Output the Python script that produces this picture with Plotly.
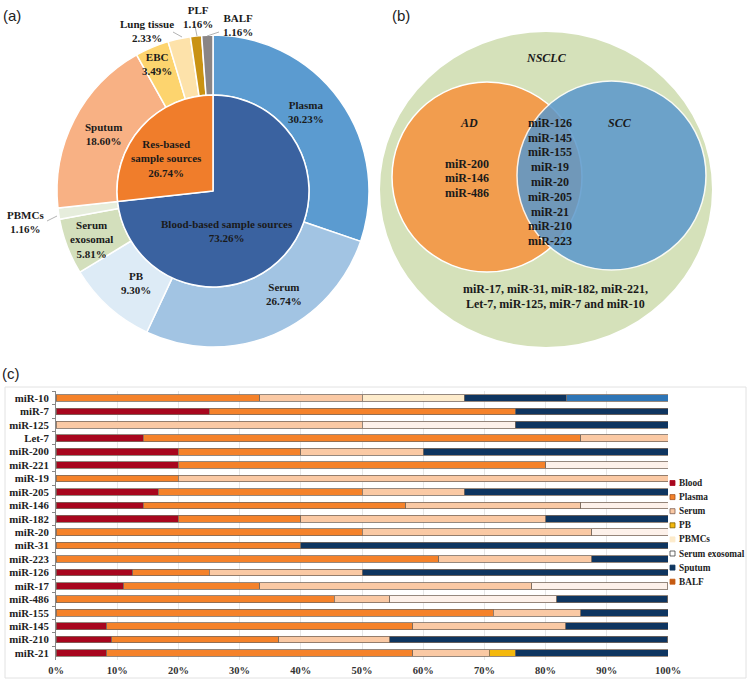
import plotly.graph_objects as go

W, H = 751, 681


def X(p):
    return p / W


def Y(p):
    return 1 - p / H


# ---------------- data ----------------
# (a) sample sources
ring_labels = ["Plasma", "Serum", "PB", "Serum exosomal", "PBMCs", "Sputum",
               "EBC", "Lung tissue", "PLF", "BALF"]
ring_values = [30.23, 26.74, 9.30, 5.81, 1.16, 18.60, 3.49, 2.33, 1.16, 1.16]
core_labels = ["Blood-based sample sources", "Res-based sample sources"]
core_values = [73.26, 26.74]

# (b) Venn sets
ad_only = ["miR-200", "miR-146", "miR-486"]
shared = ["miR-126", "miR-145", "miR-155", "miR-19", "miR-20", "miR-205",
          "miR-21", "miR-210", "miR-223"]
nsclc_only = ["miR-17, miR-31, miR-182, miR-221,",
              "Let-7, miR-125, miR-7 and miR-10"]

# (c) stacked bars (% of studies)
rows = ["miR-10", "miR-7", "miR-125", "Let-7", "miR-200", "miR-221", "miR-19",
        "miR-205", "miR-146", "miR-182", "miR-20", "miR-31", "miR-223",
        "miR-126", "miR-17", "miR-486", "miR-155", "miR-145", "miR-210", "miR-21"]
blood = [0, 25, 0, 14.29, 20, 20, 0, 16.67, 14.29, 20, 0, 0, 0, 12.5, 11.11, 0, 0, 8.33, 9.09, 8.33]
plasma = [33.33, 50, 0, 71.43, 20, 60, 20, 33.33, 42.86, 20, 50, 40, 62.5, 12.5, 22.22, 45.45, 71.43, 50, 27.27, 50]
serum = [16.67, 0, 50, 14.29, 20, 0, 80, 16.67, 28.57, 40, 37.5, 0, 25, 25, 44.44, 9.09, 14.29, 25, 18.18, 12.5]
pb = [0, 0, 0, 0, 0, 0, 0, 0, 0, 0, 0, 0, 0, 0, 0, 0, 0, 0, 0, 4.17]
pbmcs = [16.67, 0, 0, 0, 0, 0, 0, 0, 0, 0, 0, 0, 0, 0, 0, 0, 0, 0, 0, 0]
serum_exo = [0, 0, 25, 0, 0, 20, 0, 0, 14.29, 0, 12.5, 0, 0, 0, 22.22, 27.27, 0, 0, 0, 0]
sputum = [16.67, 25, 25, 0, 40, 0, 0, 33.33, 0, 20, 0, 60, 12.5, 50, 0, 18.18, 14.29, 16.67, 45.45, 25]
other = [16.67, 0, 0, 0, 0, 0, 0, 0, 0, 0, 0, 0, 0, 0, 0, 0, 0, 0, 0, 0]
x_ticks = [0, 10, 20, 30, 40, 50, 60, 70, 80, 90, 100]

# ---------------- styles ----------------
SERIF = "Liberation Serif"
SANS = "Liberation Sans"
ring_colors = ["#5B9BD0", "#A2C4E3", "#DDEBF6", "#D3DFBC", "#E6EDDC", "#F8B184",
               "#FDD46E", "#FDE2AA", "#C99212", "#8A8585"]
core_colors = ["#3A62A0", "#F07D2B"]

series = [
    ("Blood", blood, "#A8061E"),
    ("Plasma", plasma, "#F5822A"),
    ("Serum", serum, "#FAC9A4"),
    ("PB", pb, "#F4B80C"),
    ("PBMCs", pbmcs, "#FDEBCB"),
    ("Serum exosomal", serum_exo, "#FDF1EA"),
    ("Sputum", sputum, "#0E3560"),
    ("Other", other, "#2E75B6"),
]
legend_items = [("Blood", "#A8061E", "#A8061E"), ("Plasma", "#F5822A", "#A05020"),
                ("Serum", "#FAC9A4", "#806050"), ("PB", "#F4B80C", "#806000"),
                ("PBMCs", "#FDEBCB", "#FDEBCB"), ("Serum exosomal", "#FFFFFF", "#404040"),
                ("Sputum", "#0E3560", "#0E3560"), ("BALF", "#C55A11", "#C55A11")]

fig = go.Figure()

# ---------------- (a) pies ----------------
cx, cy, R_out, R_in = 213, 191, 156, 96
fig.add_trace(go.Pie(
    labels=ring_labels, values=ring_values, sort=False, direction="clockwise",
    rotation=0, hole=R_in / R_out, textinfo="none",
    marker=dict(colors=ring_colors, line=dict(color="white", width=1.5)),
    domain=dict(x=[X(cx - R_out), X(cx + R_out)], y=[Y(cy + R_out), Y(cy - R_out)]),
    showlegend=False,
))
fig.add_trace(go.Pie(
    labels=core_labels, values=core_values, sort=False, direction="clockwise",
    rotation=0, textinfo="none",
    marker=dict(colors=core_colors, line=dict(color="white", width=1.5)),
    domain=dict(x=[X(cx - R_in), X(cx + R_in)], y=[Y(cy + R_in), Y(cy - R_in)]),
    showlegend=False,
))

ann = []
shapes = []


def txt(x, y, s, size=11, family=SERIF, weight="bold", style="normal",
        color="#1a1a1a", xanchor="center", yanchor="middle"):
    ann.append(dict(x=X(x), y=Y(y), xref="paper", yref="paper", text=s,
                    showarrow=False, xanchor=xanchor, yanchor=yanchor,
                    align="center",
                    font=dict(family=family, size=size, weight=weight,
                              style=style, color=color)))


ring_text = {
    "Plasma": (306, 112), "Serum": (284, 294), "PB": (136, 283),
    "Serum exosomal": (91, 239), "PBMCs": (25, 222), "Sputum": (103, 134),
    "EBC": (157, 64), "Lung tissue": (147, 31), "PLF": (198, 17), "BALF": (238, 25),
}
for lab, val in zip(ring_labels, ring_values):
    name = "Serum<br>exosomal" if lab == "Serum exosomal" else lab
    x, y = ring_text[lab]
    txt(x, y, f"{name}<br>{val:.2f}%", size=11)

core_text = {"Blood-based sample sources": (227, 231),
             "Res-based sample sources": (166, 158)}
for lab, val in zip(core_labels, core_values):
    name = "Res-based<br>sample sources" if lab.startswith("Res") else lab
    x, y = core_text[lab]
    txt(x, y, f"{name}<br>{val:.2f}%", size=11)

# leader lines
for (x0, y0, x1, y1) in [(47, 221, 57, 216), (173, 32, 182, 37),
                         (195, 26, 197, 36), (207, 36, 219, 32)]:
    shapes.append(dict(type="line", xref="paper", yref="paper",
                       x0=X(x0), y0=Y(y0), x1=X(x1), y1=Y(y1),
                       line=dict(color="#A0A0A0", width=0.8)))

# panel letters
txt(12, 16, "(a)", size=15, family=SANS, weight="normal", color="#222")
txt(401, 16, "(b)", size=15, family=SANS, weight="normal", color="#222")
txt(11, 373, "(c)", size=15, family=SANS, weight="normal", color="#222")

# ---------------- (b) Venn ----------------
shapes.append(dict(type="circle", xref="paper", yref="paper", layer="below",
                   x0=X(380), x1=X(712), y0=Y(347), y1=Y(32),
                   fillcolor="#D5E1BA", line=dict(color="#D5E1BA", width=0)))
shapes.append(dict(type="circle", xref="paper", yref="paper", layer="below",
                   x0=X(392), x1=X(582), y0=Y(272), y1=Y(82),
                   fillcolor="#F29D4E", line=dict(color="white", width=1.5)))
shapes.append(dict(type="circle", xref="paper", yref="paper", layer="below",
                   x0=X(517), x1=X(706), y0=Y(270), y1=Y(81), opacity=0.85,
                   fillcolor="#5A98CC", line=dict(color="white", width=1.5)))

txt(546, 58, "NSCLC", size=12, style="italic")
txt(469, 123, "AD", size=12, style="italic")
txt(620, 123, "SCC", size=12, style="italic")
for i, m in enumerate(ad_only):
    txt(467, 164 + i * 14.5, m, size=12)
for i, m in enumerate(shared):
    txt(550, 123 + i * 14.75, m, size=12)
for i, line in enumerate(nsclc_only):
    txt(555, 289 + i * 15, line, size=12)

# ---------------- (c) stacked bars ----------------
for name, vals, col in series:
    fig.add_trace(go.Bar(
        y=rows, x=[v if v else None for v in vals], orientation="h", name=name,
        marker=dict(color=col, line=dict(color="#7A6A5E", width=0.8)),
        showlegend=False, xaxis="x", yaxis="y",
    ))

shapes.append(dict(type="rect", xref="paper", yref="paper", layer="below",
                   x0=X(5), x1=X(746), y0=Y(678), y1=Y(387),
                   line=dict(color="#E2E2E2", width=1), fillcolor="rgba(0,0,0,0)"))

# manual legend
for i, (name, fill, edge) in enumerate(legend_items):
    yy = 483 + i * 14.1
    shapes.append(dict(type="rect", xref="paper", yref="paper",
                       x0=X(670), x1=X(675), y0=Y(yy + 2.5), y1=Y(yy - 2.5),
                       fillcolor=fill, line=dict(color=edge, width=0.8)))
    txt(677, yy, name, size=9.3, xanchor="left", color="#222")

fig.update_layout(
    width=W, height=H, margin=dict(l=0, r=0, t=0, b=0, autoexpand=False),
    paper_bgcolor="white", plot_bgcolor="white",
    barmode="stack", bargap=0.5,
    xaxis=dict(domain=[X(56), X(668)], range=[0, 100], tickvals=x_ticks,
               ticktext=[f"{v}%" for v in x_ticks], showgrid=True,
               gridcolor="#E6E6E6", gridwidth=1, zeroline=False, showline=False,
               ticks="", automargin=False, ticklabelstandoff=3,
               tickfont=dict(family=SERIF, size=10.5, weight="bold", color="#333"),
               anchor="y", fixedrange=True),
    yaxis=dict(domain=[Y(659.7), Y(391.3)], type="category",
               categoryorder="array", categoryarray=rows, autorange="reversed",
               showline=True, linecolor="#888", linewidth=1, showgrid=False,
               ticks="outside", tickson="boundaries", ticklen=3, tickcolor="#888",
               automargin=False,
               tickfont=dict(family=SERIF, size=10.8, weight="bold", color="#222"),
               ticklabelstandoff=4, anchor="x", fixedrange=True),
    annotations=ann, shapes=shapes,
)

fig.write_html(
    "out.html",
    config={"displayModeBar": False},
    post_script="document.body.style.margin='0';document.body.style.overflow='hidden';",
)
